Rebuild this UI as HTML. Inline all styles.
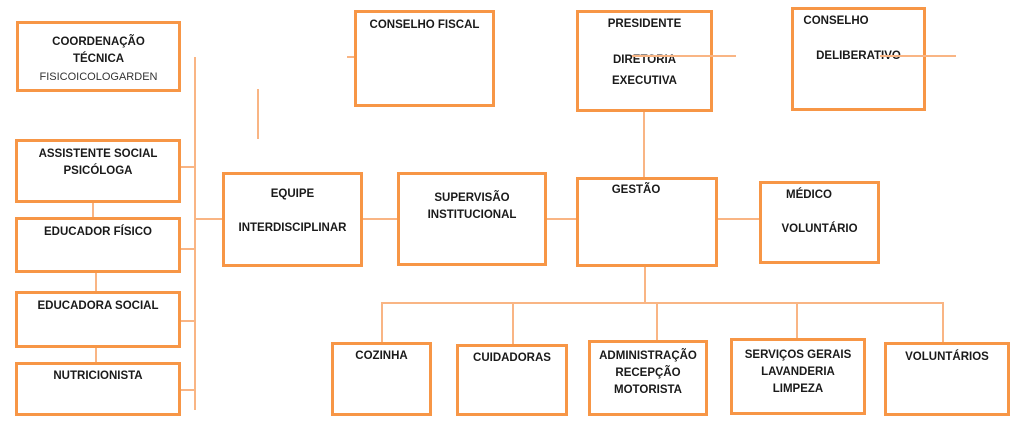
<!DOCTYPE html>
<html><head><meta charset="utf-8"><style>
body{margin:0;width:1024px;height:437px;background:#fff;position:relative;overflow:hidden;font-family:"Liberation Sans",sans-serif;}
.b{position:absolute;border:3px solid #f79646;box-sizing:border-box;background:#fff;}
.t{position:absolute;font-weight:bold;font-size:11.5px;color:#1a1a1a;text-align:center;line-height:17px;white-space:nowrap;}
.h{position:absolute;height:2px;background:#f9b584;}
.v{position:absolute;width:2px;background:#f9b584;}
</style></head><body>
<!-- lines -->
<div class="v" style="left:194px;top:57px;height:353px"></div>
<div class="h" style="left:181px;top:166px;width:14px"></div>
<div class="h" style="left:195px;top:218px;width:28px"></div>
<div class="h" style="left:181px;top:248px;width:14px"></div>
<div class="h" style="left:181px;top:320px;width:14px"></div>
<div class="h" style="left:181px;top:389px;width:14px"></div>
<div class="v" style="left:92px;top:200px;height:18px"></div>
<div class="v" style="left:95px;top:272px;height:20px"></div>
<div class="v" style="left:95px;top:345px;height:18px"></div>
<div class="v" style="left:257px;top:89px;height:50px"></div>
<div class="h" style="left:347px;top:56px;width:14px"></div>
<div class="h" style="left:362px;top:218px;width:36px"></div>
<div class="h" style="left:545px;top:218px;width:32px"></div>
<div class="h" style="left:716px;top:218px;width:44px"></div>
<div class="v" style="left:643px;top:108px;height:70px"></div>
<div class="v" style="left:644px;top:260px;height:44px"></div>
<div class="h" style="left:382px;top:302px;width:562px"></div>
<div class="v" style="left:381px;top:302px;height:42px"></div>
<div class="v" style="left:512px;top:302px;height:44px"></div>
<div class="v" style="left:656px;top:302px;height:40px"></div>
<div class="v" style="left:796px;top:302px;height:38px"></div>
<div class="v" style="left:942px;top:302px;height:42px"></div>
<!-- boxes -->
<div class="b" style="left:16px;top:21px;width:165px;height:71px"></div>
<div class="t" style="left:16px;top:34px;width:165px">COORDENAÇÃO<br>TÉCNICA</div>
<div class="t" style="left:16px;top:72px;width:165px;font-weight:normal;font-size:11px;line-height:11px;height:9px;overflow:hidden;color:#333">FISICOICOLOGARDEN</div>
<div class="b" style="left:354px;top:10px;width:141px;height:97px"></div>
<div class="t" style="left:354px;top:17px;width:141px">CONSELHO FISCAL</div>
<div class="b" style="left:576px;top:10px;width:137px;height:102px"></div>
<div class="t" style="left:576px;top:16px;width:137px">PRESIDENTE</div>
<div class="t" style="left:576px;top:50px;width:137px;line-height:21px">DIRETORIA<br>EXECUTIVA</div>
<div class="b" style="left:791px;top:7px;width:135px;height:104px"></div>
<div class="t" style="left:791px;top:13px;width:90px">CONSELHO</div>
<div class="t" style="left:791px;top:48px;width:135px">DELIBERATIVO</div>
<div class="h" style="left:632px;top:55px;width:104px"></div>
<div class="h" style="left:880px;top:55px;width:76px"></div>
<div class="b" style="left:15px;top:139px;width:166px;height:64px"></div>
<div class="t" style="left:15px;top:146px;width:166px">ASSISTENTE SOCIAL<br>PSICÓLOGA</div>
<div class="b" style="left:15px;top:217px;width:166px;height:56px"></div>
<div class="t" style="left:15px;top:224px;width:166px">EDUCADOR FÍSICO</div>
<div class="b" style="left:15px;top:291px;width:166px;height:57px"></div>
<div class="t" style="left:15px;top:298px;width:166px">EDUCADORA SOCIAL</div>
<div class="b" style="left:15px;top:362px;width:166px;height:54px"></div>
<div class="t" style="left:15px;top:368px;width:166px">NUTRICIONISTA</div>
<div class="b" style="left:222px;top:172px;width:141px;height:95px"></div>
<div class="t" style="left:222px;top:186px;width:141px">EQUIPE</div>
<div class="t" style="left:222px;top:220px;width:141px">INTERDISCIPLINAR</div>
<div class="b" style="left:397px;top:172px;width:150px;height:94px"></div>
<div class="t" style="left:397px;top:190px;width:150px">SUPERVISÃO<br>INSTITUCIONAL</div>
<div class="b" style="left:576px;top:177px;width:142px;height:90px"></div>
<div class="t" style="left:576px;top:182px;width:120px">GESTÃO</div>
<div class="b" style="left:759px;top:181px;width:121px;height:83px"></div>
<div class="t" style="left:759px;top:187px;width:100px">MÉDICO</div>
<div class="t" style="left:759px;top:221px;width:121px">VOLUNTÁRIO</div>
<div class="b" style="left:331px;top:342px;width:101px;height:74px"></div>
<div class="t" style="left:331px;top:348px;width:101px">COZINHA</div>
<div class="b" style="left:456px;top:344px;width:112px;height:72px"></div>
<div class="t" style="left:456px;top:350px;width:112px">CUIDADORAS</div>
<div class="b" style="left:588px;top:340px;width:120px;height:76px"></div>
<div class="t" style="left:588px;top:348px;width:120px">ADMINISTRAÇÃO<br>RECEPÇÃO<br>MOTORISTA</div>
<div class="b" style="left:730px;top:338px;width:136px;height:77px"></div>
<div class="t" style="left:730px;top:347px;width:136px">SERVIÇOS GERAIS<br>LAVANDERIA<br>LIMPEZA</div>
<div class="b" style="left:884px;top:342px;width:126px;height:74px"></div>
<div class="t" style="left:884px;top:349px;width:126px">VOLUNTÁRIOS</div>
</body></html>
